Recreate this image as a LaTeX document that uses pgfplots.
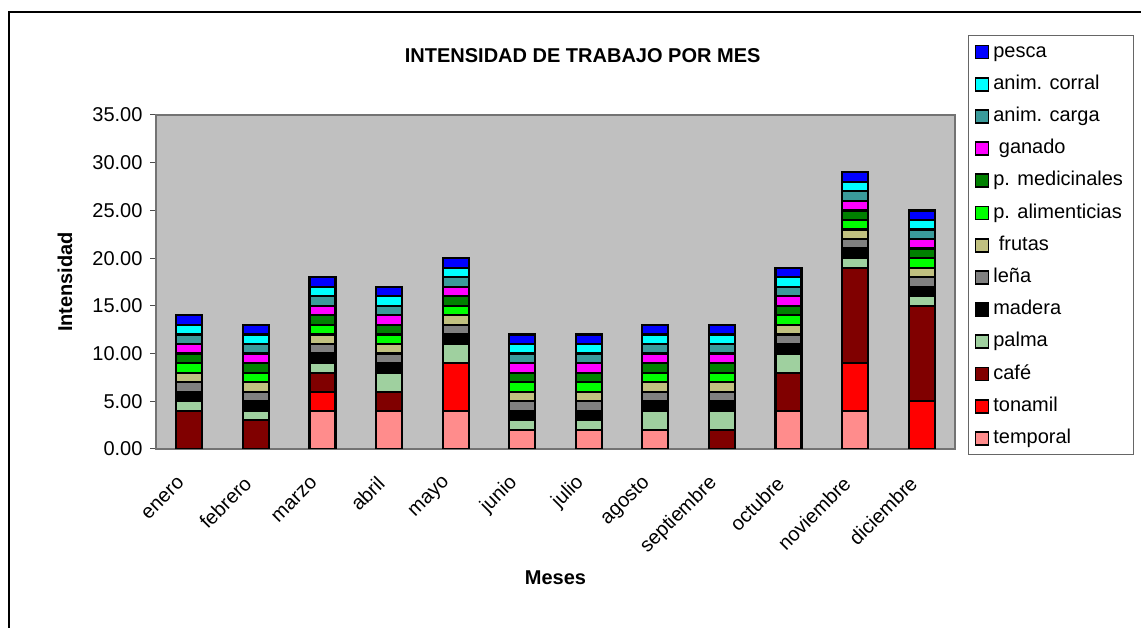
\documentclass[border=0pt]{standalone}
\usepackage{pgfplots}
\pgfplotsset{compat=1.18}
\usepackage{pgfplotstable}
\usepackage{fontspec}
\setmainfont{Liberation Sans}

\definecolor{cTemporal}{HTML}{FF8C8C}
\definecolor{cTonamil}{HTML}{FF0000}
\definecolor{cCafe}{HTML}{800000}
\definecolor{cPalma}{HTML}{9FD09F}
\definecolor{cMadera}{HTML}{000000}
\definecolor{cLena}{HTML}{808080}
\definecolor{cFrutas}{HTML}{C0C080}
\definecolor{cAlim}{HTML}{00FF00}
\definecolor{cMed}{HTML}{008000}
\definecolor{cGanado}{HTML}{FF00FF}
\definecolor{cCarga}{HTML}{3A9A9A}
\definecolor{cCorral}{HTML}{00FFFF}
\definecolor{cPesca}{HTML}{0000FF}
\definecolor{plotbg}{HTML}{C0C0C0}

\pgfplotstableread{
m temporal tonamil cafe palma madera lena frutas alim med ganado carga corral pesca
0  0 0 4  1 1 1 1 1 1 1 1 1 1
1  0 0 3  1 1 1 1 1 1 1 1 1 1
2  4 2 2  1 1 1 1 1 1 1 1 1 1
3  4 0 2  2 1 1 1 1 1 1 1 1 1
4  4 5 0  2 1 1 1 1 1 1 1 1 1
5  2 0 0  1 1 1 1 1 1 1 1 1 1
6  2 0 0  1 1 1 1 1 1 1 1 1 1
7  2 0 0  2 1 1 1 1 1 1 1 1 1
8  0 0 2  2 1 1 1 1 1 1 1 1 1
9  4 0 4  2 1 1 1 1 1 1 1 1 1
10 4 5 10 1 1 1 1 1 1 1 1 1 1
11 0 5 10 1 1 1 1 1 1 1 1 1 1
}\datatable

\begin{document}
\begin{tikzpicture}[font=\fontsize{20}{24}\selectfont]
\useasboundingbox (0pt,0pt) rectangle (1141pt,628pt);
\draw[line width=2pt] (9pt,0pt) -- (9pt,616pt) -- (1141pt,616pt);
\begin{axis}[
  at={(156pt,179pt)}, anchor=south west,
  width=799pt, height=334pt, scale only axis,
  ybar stacked, bar width=26pt,
  xmin=-0.5, xmax=11.5, ymin=0, ymax=35,
  axis background/.style={fill=plotbg},
  axis line style={draw=black!55, line width=1.2pt},
  tick pos=left,
  xtick={0,...,11},
  xticklabels={enero,febrero,marzo,abril,mayo,junio,julio,agosto,septiembre,octubre,noviembre,diciembre},
  xtick style={draw=none},
  extra x ticks={-0.5,0.5,...,11.5},
  extra x tick labels={},
  extra tick style={tick align=center, major tick length=13pt, tick style={draw=black!70, line width=1pt}},
  ytick={0,5,...,35},
  ytick style={draw=black!70, line width=1pt},
  major tick length=6pt, tick align=outside,
  yticklabel style={font=\fontsize{20}{24}\selectfont, xshift=-4pt,
    /pgf/number format/.cd, fixed, fixed zerofill, precision=2, assume math mode=true},
  xticklabel style={font=\fontsize{20}{24}\selectfont, rotate=45, anchor=east, xshift=-20pt, yshift=-12pt},
  every axis y label/.style={at={(axis description cs:-0.114,0.5)}, rotate=90, anchor=center, font=\bfseries\fontsize{20}{24}\selectfont},
  every axis x label/.style={at={(axis description cs:0.5,-0.386)}, anchor=center, font=\bfseries\fontsize{20}{24}\selectfont},
  ylabel={Intensidad},
  xlabel={Meses},
  title={INTENSIDAD DE TRABAJO POR MES},
  title style={at={(axis description cs:0.534,1.159)}, anchor=center, font=\bfseries\fontsize{20}{24}\selectfont},
  reverse legend,
  legend cell align=left,
  legend image code/.code={\draw[#1, draw=black, line width=1.8pt] (0pt,-6.5pt) rectangle (13pt,6.5pt);},
  legend style={at={(axis description cs:1.0163,1.2395)}, anchor=north west,
    draw=black!60, line width=1pt, fill=white, inner xsep=6pt, inner ysep=5pt, row sep=9.2pt,
    nodes={inner ysep=2pt, inner xsep=4pt, text height=14.5pt, text depth=4.5pt, anchor=west, font=\fontsize{20}{24}\selectfont}},
  every axis plot/.append style={draw=black, line width=2.2pt},
]
\addplot[fill=cTemporal] table[x=m,y=temporal]{\datatable};
\addplot[fill=cTonamil] table[x=m,y=tonamil]{\datatable};
\addplot[fill=cCafe] table[x=m,y=cafe]{\datatable};
\addplot[fill=cPalma] table[x=m,y=palma]{\datatable};
\addplot[fill=cMadera] table[x=m,y=madera]{\datatable};
\addplot[fill=cLena] table[x=m,y=lena]{\datatable};
\addplot[fill=cFrutas] table[x=m,y=frutas]{\datatable};
\addplot[fill=cAlim] table[x=m,y=alim]{\datatable};
\addplot[fill=cMed] table[x=m,y=med]{\datatable};
\addplot[fill=cGanado] table[x=m,y=ganado]{\datatable};
\addplot[fill=cCarga] table[x=m,y=carga]{\datatable};
\addplot[fill=cCorral] table[x=m,y=corral]{\datatable};
\addplot[fill=cPesca] table[x=m,y=pesca]{\datatable};
\legend{temporal,tonamil,café,palma,madera,leña,\ frutas,p. alimenticias,p. medicinales,\ ganado,anim. carga,anim. corral,pesca}
\end{axis}
\end{tikzpicture}
\end{document}
